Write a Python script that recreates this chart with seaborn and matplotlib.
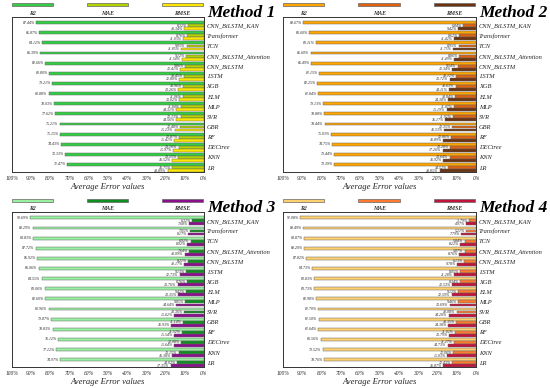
import numpy as np
import pandas as pd
import seaborn as sns
import matplotlib.pyplot as plt
from matplotlib.patches import Rectangle

sns.set_theme(style='white')
plt.rcParams['font.family'] = 'serif'
plt.rcParams['font.serif'] = ['Liberation Serif', 'DejaVu Serif']

models = ['CNN_BiLSTM_KAN', 'Transformer', 'TCN', 'CNN_BiLSTM_Attention', 'CNN_BiLSTM',
          'LSTM', 'XGB', 'ELM', 'MLP', 'SVR', 'GBR', 'RF', 'DECtree', 'KNN', 'LR']
metrics = ['R2', 'MAE', 'RMSE']

# Method 1
r2_m1 = [87.44, 85.87, 84.12, 85.39, 82.66, 80.80, 79.21, 80.88, 78.03, 77.62, 75.21, 75.15, 74.43, 72.33, 71.47]
mae_m1 = [8.32, 8.76, 9.05, 9.12, 9.86, 10.45, 10.96, 11.06, 11.84, 12.13, 12.48, 12.87, 13.16, 13.55, 16.75]
rmse_m1 = [10.34, 11.03, 11.85, 11.54, 12.41, 12.80, 13.26, 13.02, 14.31, 14.56, 15.23, 15.41, 15.97, 16.52, 18.89]
# Method 2
r2_m2 = [89.67, 86.60, 83.11, 85.60, 85.49, 81.15, 82.25, 81.84, 79.13, 78.88, 78.44, 75.03, 74.75, 73.44, 73.39]
mae_m2 = [6.84, 8.62, 8.95, 8.86, 9.54, 10.12, 10.63, 10.84, 11.47, 11.92, 12.35, 12.86, 13.28, 13.64, 14.52]
rmse_m2 = [9.42, 11.42, 11.75, 11.49, 12.34, 13.72, 14.11, 14.38, 15.19, 16.17, 16.53, 16.89, 17.26, 16.92, 18.85]
# Method 3
r2_m3 = [90.69, 89.29, 88.83, 87.72, 86.92, 86.06, 84.55, 83.06, 82.60, 80.96, 79.87, 78.83, 76.12, 77.12, 74.97]
mae_m3 = [6.32, 7.05, 6.92, 7.64, 8.21, 9.13, 8.76, 9.42, 9.85, 10.36, 11.14, 11.52, 12.08, 13.15, 14.02]
rmse_m3 = [7.68, 8.17, 8.92, 10.09, 10.17, 12.73, 13.76, 13.35, 14.64, 15.62, 16.93, 15.54, 15.64, 16.38, 17.35]
# Method 4
r2_m4 = [91.08, 89.49, 88.87, 89.20, 87.82, 84.73, 83.83, 83.73, 82.98, 81.70, 81.50, 81.64, 80.56, 79.52, 78.76]
mae_m4 = [3.79, 5.21, 5.84, 5.87, 6.13, 8.05, 8.34, 9.12, 9.46, 10.08, 10.35, 11.02, 11.27, 12.06, 12.43]
rmse_m4 = [4.97, 7.79, 8.22, 8.76, 9.78, 11.28, 12.53, 12.59, 13.69, 14.20, 14.38, 13.79, 14.73, 15.03, 16.87]

colors_m1 = ['#33cc44', '#b4d200', '#ffe800']
colors_m2 = ['#ffa500', '#e0620e', '#6b3310']
colors_m3 = ['#98f0a0', '#0f8f20', '#8a0f8a']
colors_m4 = ['#ffd070', '#ff7a30', '#c0143c']

xticks = [0, 10, 20, 30, 40, 50, 60, 70, 80, 90, 100]
edge = '#666666'


def draw_panel(ax, r2, mae, rmse, colors, title, leg_y):
    df = pd.DataFrame({
        'model': models * 3,
        'metric': ['R2'] * 15 + ['MAE'] * 15 + ['RMSE'] * 15,
        'value': r2 + mae + rmse,
    })
    sns.barplot(data=df, x='value', y='model', hue='metric', order=models,
                hue_order=metrics, palette=colors, orient='h', width=0.9,
                gap=0.05, errorbar=None, edgecolor=edge, linewidth=0.35,
                saturation=1, legend=False, ax=ax)
    ax.set_xlim(100, 0)
    ax.set_ylim(14.43, -0.89)

    # value labels at bar ends
    for cont in ax.containers:
        for bar in cont:
            v = bar.get_width()
            y = bar.get_y() + bar.get_height() / 2
            ax.annotate(f'{v:.2f}%', (v, y), xytext=(-0.8, 0),
                        textcoords='offset points', ha='right', va='center',
                        fontsize=2.8, style='italic', color='#222222')

    ax.set_xticks(xticks)
    ax.set_xticklabels([f'{t}%' for t in xticks], fontsize=4, style='italic')
    ax.tick_params(axis='x', length=1.5, width=0.5, pad=1.5)
    ax.yaxis.tick_right()
    ax.tick_params(axis='y', length=0, pad=2, labelsize=4.6)
    for lab in ax.get_yticklabels():
        lab.set_style('italic')
    ax.set_ylabel('')
    ax.set_xlabel('Average Error values', fontsize=6.2, style='italic', labelpad=1.5)
    for sp in ax.spines.values():
        sp.set_visible(True)
        sp.set_color('#333333')
        sp.set_linewidth(0.7)

    # legend drawn above the axes
    for c, name, cx in zip(colors, metrics, [0.107, 0.498, 0.889]):
        ax.add_patch(Rectangle((cx - 0.107, leg_y - 0.009), 0.214, 0.018,
                               transform=ax.transAxes, clip_on=False,
                               facecolor=c, edgecolor=edge, linewidth=0.5))
        ax.text(cx, 1.022, name, transform=ax.transAxes, ha='center', va='center',
                fontsize=4.2, style='italic', fontweight='bold', color='#333333')

    ax.text(1.016, 1.026, title, transform=ax.transAxes, ha='left', va='center',
            fontsize=12.5, style='italic', fontweight='bold', color='black')


fig = plt.figure(figsize=(5.5, 3.88), dpi=100)
ax1 = fig.add_axes([0.0218, 0.557, 0.349, 0.40])
ax2 = fig.add_axes([0.5145, 0.557, 0.351, 0.40])
ax3 = fig.add_axes([0.0218, 0.054, 0.349, 0.40])
ax4 = fig.add_axes([0.5145, 0.054, 0.351, 0.40])

draw_panel(ax1, r2_m1, mae_m1, rmse_m1, colors_m1, 'Method 1', 1.077)
draw_panel(ax2, r2_m2, mae_m2, rmse_m2, colors_m2, 'Method 2', 1.077)
draw_panel(ax3, r2_m3, mae_m3, rmse_m3, colors_m3, 'Method 3', 1.071)
draw_panel(ax4, r2_m4, mae_m4, rmse_m4, colors_m4, 'Method 4', 1.071)

fig.savefig('out.png', dpi=100, facecolor='white')
